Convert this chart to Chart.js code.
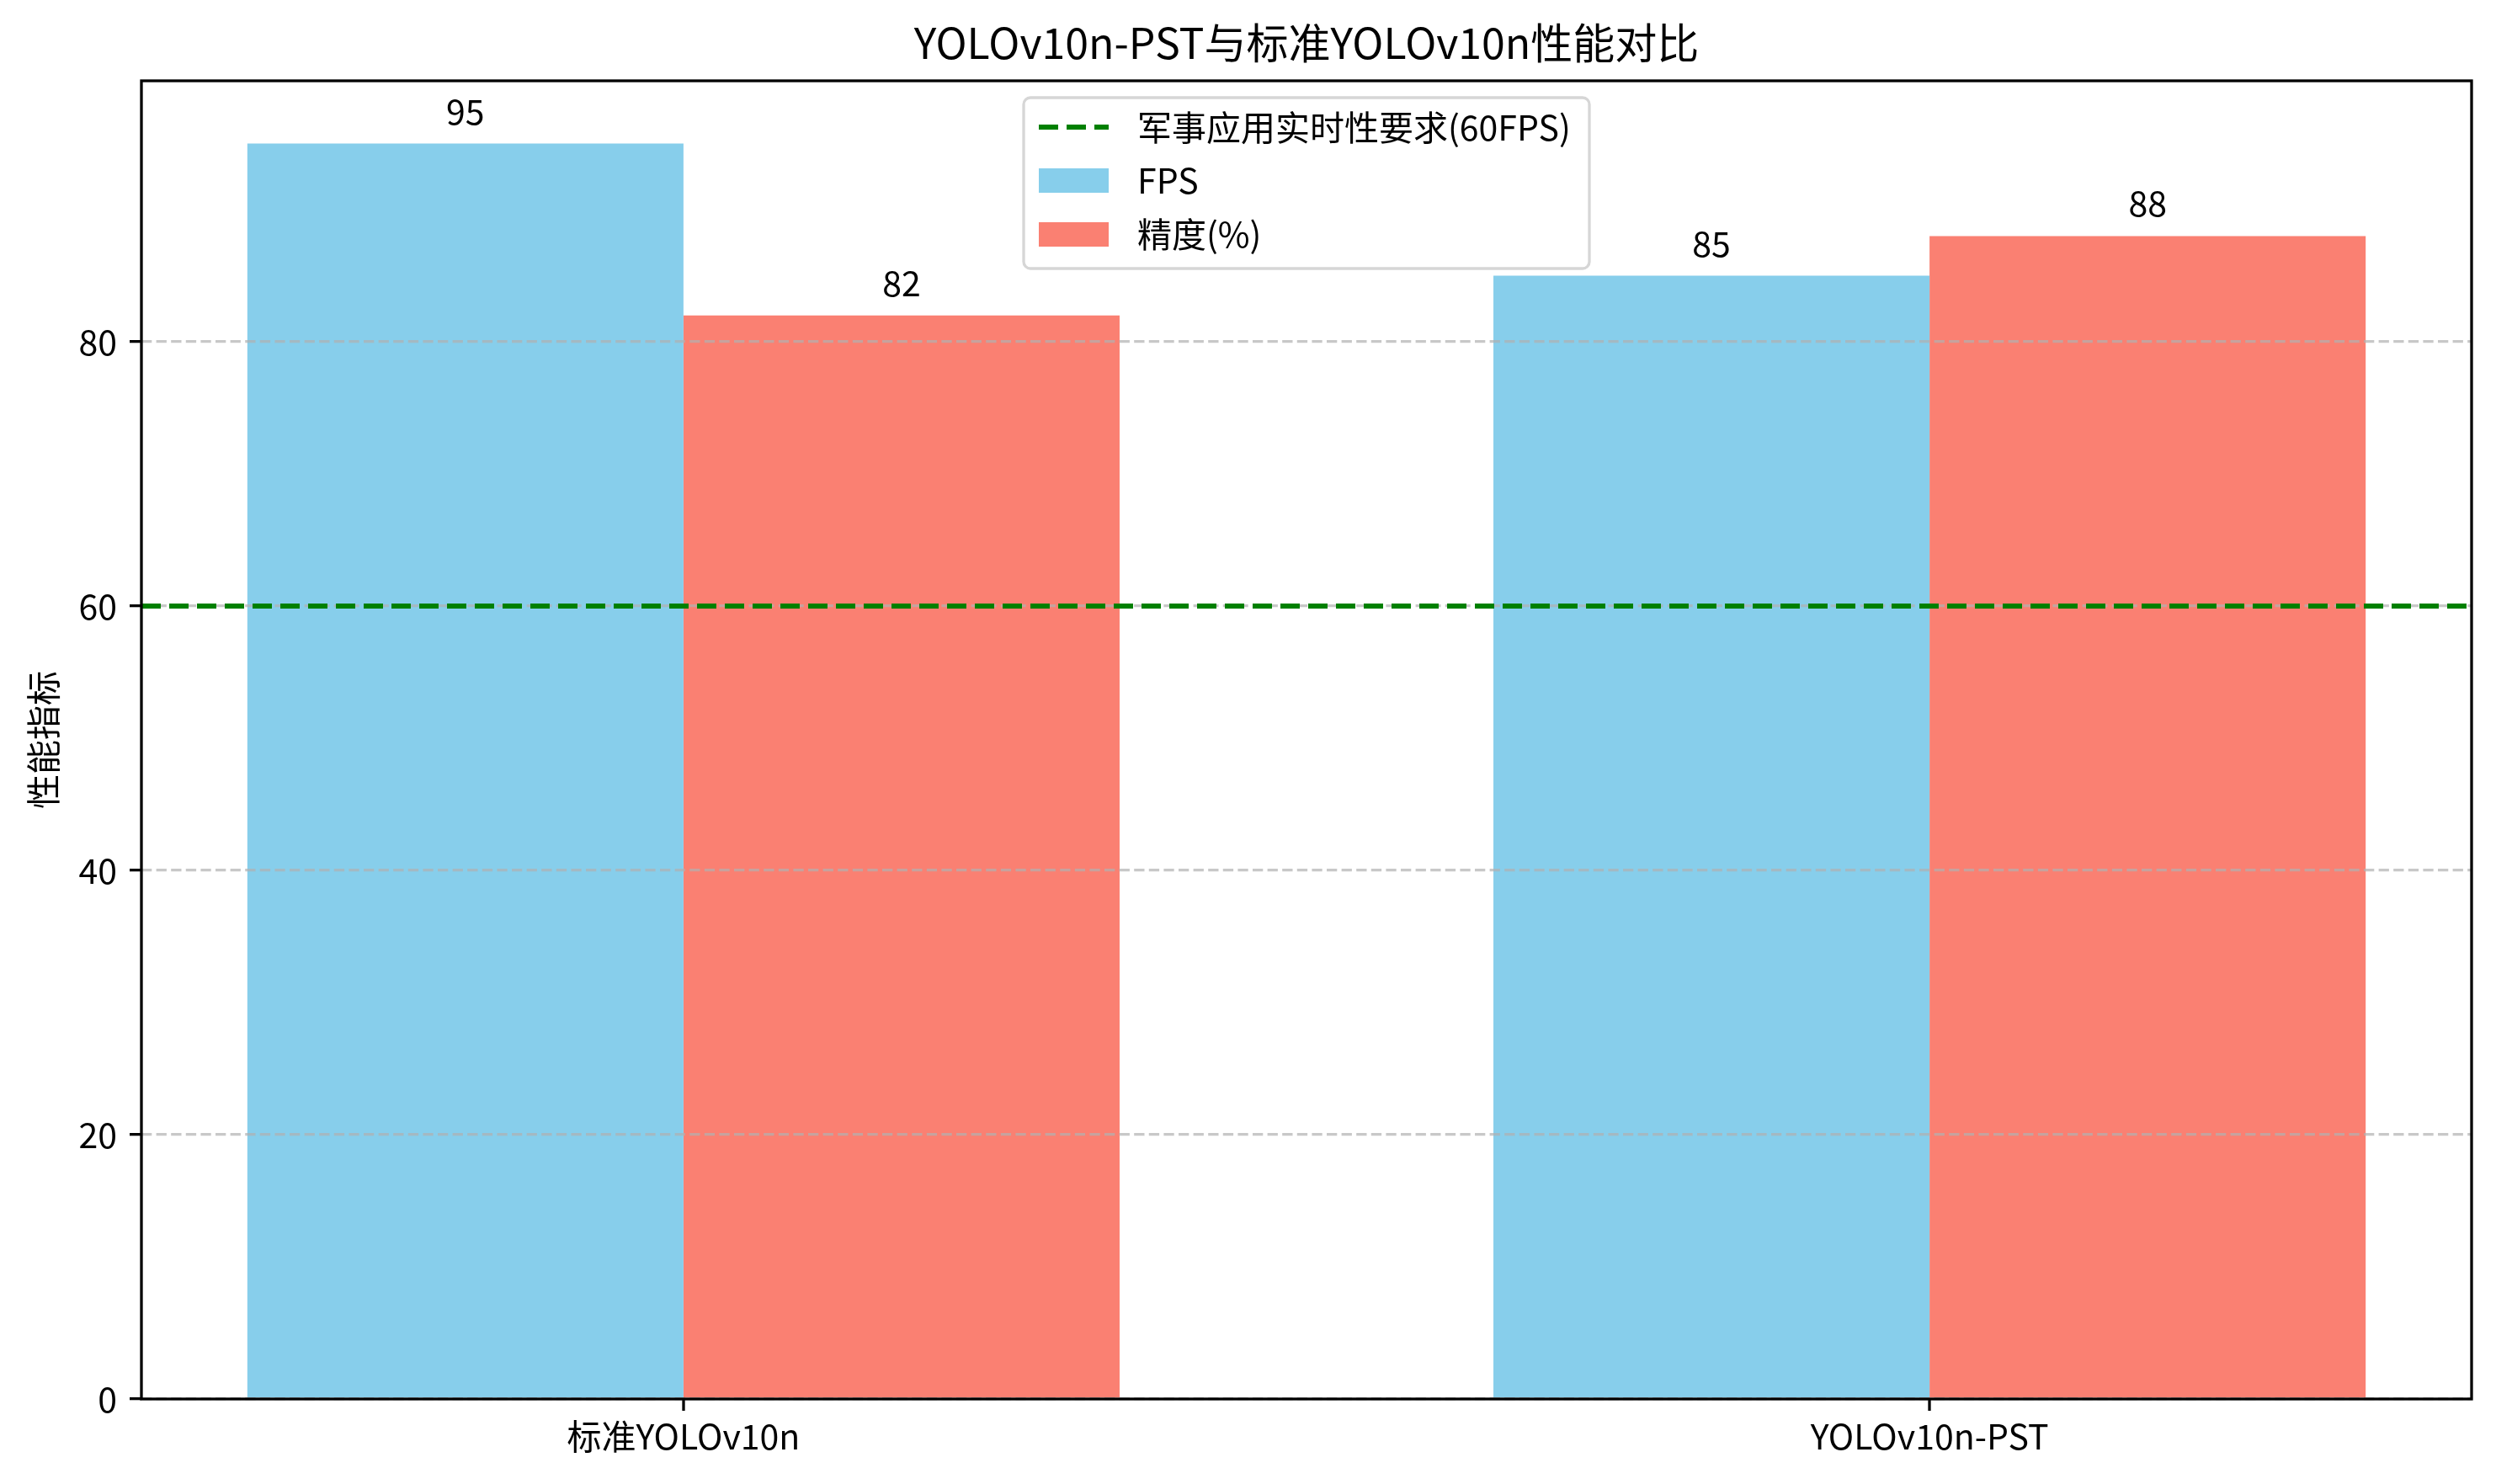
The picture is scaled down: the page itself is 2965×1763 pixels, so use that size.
<!DOCTYPE html>
<html>
<head>
<meta charset="utf-8">
<script src="https://cdn.jsdelivr.net/npm/chart.js@4.4.1/dist/chart.umd.min.js"></script>
<style>
html,body{margin:0;padding:0;background:#ffffff;}
#wrap{width:2965px;height:1763px;}
canvas{display:block;}
</style>
</head>
<body>
<div id="wrap"><canvas id="c" width="2965" height="1763"></canvas></div>
<script>
// ---- data ----
const chartTitle = 'YOLOv10n-PST与标准YOLOv10n性能对比';
const yAxisTitle = '性能指标';
const categories = ['标准YOLOv10n', 'YOLOv10n-PST'];
const seriesLabels = ['FPS', '精度(%)'];
const fpsValues = [95, 85];
const accuracyValues = [82, 88];
const thresholdValue = 60;
const thresholdLabel = '军事应用实时性要求(60FPS)';
const yTicks = [0, 20, 40, 60, 80];
const yMin = 0, yMax = 99.75;
const xMin = -0.435, xMax = 1.435;

// ---- style ----
const FONT = "'Noto Sans CJK SC', 'Noto Sans', sans-serif";
const C_FPS = '#87CEEB';
const C_ACC = '#FA8072';
const C_THR = '#008000';
const GRID = 'rgba(176,176,176,0.7)';

const toPoints = vals => categories.map((c, i) => ({x: i, y: vals[i]}));

const overlay = {
  id: 'overlay',
  afterDraw(chart) {
    const {ctx, chartArea: a, scales: {y}} = chart;
    ctx.save();
    // threshold line
    const ty = y.getPixelForValue(thresholdValue);
    ctx.strokeStyle = C_THR;
    ctx.lineWidth = 6;
    ctx.setLineDash([23, 10]);
    ctx.beginPath();
    ctx.moveTo(a.left, ty);
    ctx.lineTo(a.right, ty);
    ctx.stroke();
    ctx.setLineDash([]);

    // value labels
    ctx.fillStyle = '#000';
    ctx.font = `41px ${FONT}`;
    ctx.textAlign = 'center';
    ctx.textBaseline = 'alphabetic';
    chart.data.datasets.forEach((ds, di) => {
      const meta = chart.getDatasetMeta(di);
      meta.data.forEach((bar, i) => {
        ctx.fillText(String(ds.data[i].y), bar.x, bar.y - 23);
      });
    });

    // frame
    ctx.strokeStyle = '#000';
    ctx.lineWidth = 3.3;
    ctx.strokeRect(a.left, a.top, a.right - a.left, a.bottom - a.top);

    // title
    ctx.font = `50px ${FONT}`;
    ctx.textAlign = 'center';
    ctx.textBaseline = 'alphabetic';
    ctx.fillText(chartTitle, (a.left + a.right) / 2, a.top - 26);

    // legend
    const bw = 672, bh = 203;
    const bx = (a.left + a.right) / 2 - bw / 2;
    const by = a.top + 20;
    ctx.fillStyle = 'rgba(255,255,255,0.8)';
    ctx.strokeStyle = '#d6d6d6';
    ctx.lineWidth = 3.3;
    ctx.beginPath();
    ctx.roundRect(bx, by, bw, bh, 8);
    ctx.fill();
    ctx.stroke();

    const hx = bx + 18, hw = 83, tx = bx + 135;
    const rows = [by + 35, by + 98.5, by + 162.5];
    ctx.strokeStyle = C_THR;
    ctx.lineWidth = 6;
    ctx.setLineDash([23, 10]);
    ctx.beginPath();
    ctx.moveTo(hx, rows[0]);
    ctx.lineTo(hx + hw, rows[0]);
    ctx.stroke();
    ctx.setLineDash([]);
    chart.data.datasets.forEach((ds, di) => {
      ctx.fillStyle = ds.backgroundColor;
      ctx.fillRect(hx, rows[di + 1] - 14.5, hw, 29);
    });
    ctx.fillStyle = '#000';
    ctx.font = `41px ${FONT}`;
    ctx.textAlign = 'left';
    ctx.textBaseline = 'middle';
    ctx.fillText(thresholdLabel, tx, rows[0]);
    chart.data.datasets.forEach((ds, di) => {
      ctx.fillText(ds.label, tx, rows[di + 1]);
    });
    ctx.restore();
  }
};

new Chart(document.getElementById('c'), {
  type: 'bar',
  data: {
    datasets: [
      {label: seriesLabels[0], data: toPoints(fpsValues), backgroundColor: C_FPS, borderWidth: 0},
      {label: seriesLabels[1], data: toPoints(accuracyValues), backgroundColor: C_ACC, borderWidth: 0}
    ]
  },
  options: {
    responsive: false,
    animation: false,
    devicePixelRatio: 1,
    categoryPercentage: 0.7,
    barPercentage: 1.0,
    layout: {padding: {left: 0, top: 96, right: 29, bottom: 0}},
    plugins: {legend: {display: false}, title: {display: false}, tooltip: {enabled: false}},
    scales: {
      x: {
        type: 'linear',
        min: xMin, max: xMax,
        offset: false,
        afterBuildTicks: s => { s.ticks = categories.map((c, i) => ({value: i})); },
        afterFit: s => { s.height = 101; },
        ticks: {
          callback: v => categories[v],
          autoSkip: false, maxRotation: 0, minRotation: 0,
          color: '#000', font: {family: FONT, size: 41}, padding: 6
        },
        grid: {display: true, drawOnChartArea: false, drawTicks: true, offset: false,
               tickLength: 14, tickColor: '#000', tickWidth: 3.3, lineWidth: 0},
        border: {display: false}
      },
      y: {
        type: 'linear',
        min: yMin, max: yMax,
        afterBuildTicks: s => { s.ticks = yTicks.map(v => ({value: v})); },
        afterFit: s => { s.width = 168; },
        ticks: {color: '#000', font: {family: FONT, size: 41}, padding: 15},
        grid: {display: true, drawOnChartArea: true, drawTicks: true, z: 1,
               color: GRID, lineWidth: 3.3, borderDash: [12.3, 5.3],
               tickLength: 14, tickColor: '#000', tickWidth: 3.3, tickBorderDash: []},
        border: {display: false, dash: [12.3, 5.3]},
        title: {display: true, text: yAxisTitle, color: '#000',
                font: {family: FONT, size: 41}, padding: {top: 27, bottom: 0}}
      }
    }
  },
  plugins: [overlay]
});
</script>
</body>
</html>
